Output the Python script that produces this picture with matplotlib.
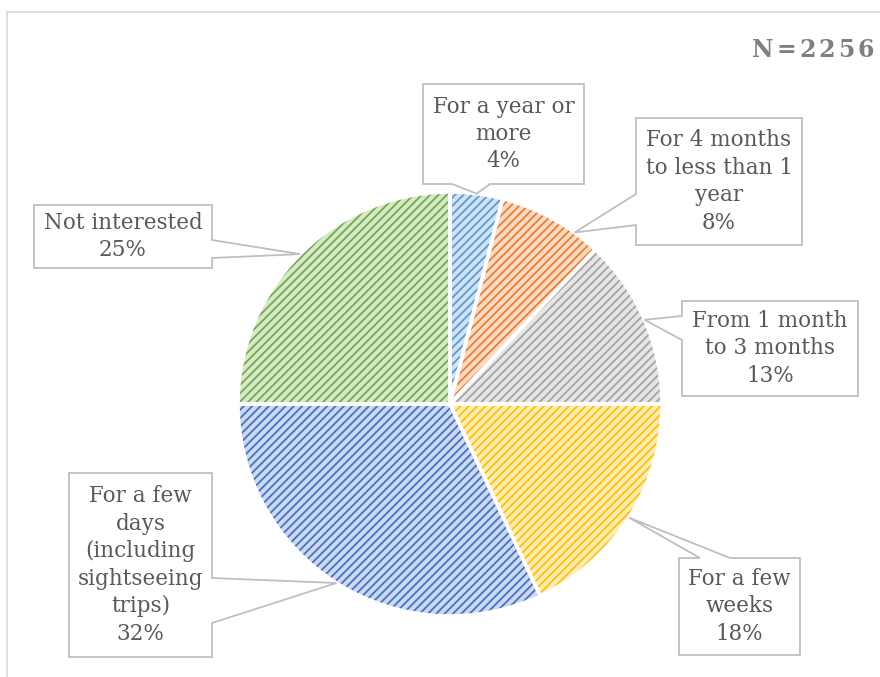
import matplotlib
matplotlib.use("Agg")
import matplotlib.pyplot as plt
from matplotlib.patches import Polygon
from matplotlib.colors import to_rgb
import numpy as np

# ---- data ----
categories = [
    "For a year or\nmore",
    "For 4 months\nto less than 1\nyear",
    "From 1 month\nto 3 months",
    "For a few\nweeks",
    "For a few\ndays\n(including\nsightseeing\ntrips)",
    "Not interested",
]
shares = [4, 8, 13, 18, 32, 25]
sample_note = "N=2256"

# ---- style ----
base_colors = ["#5B9BD5", "#ED7D31", "#A5A5A5", "#FFC000", "#4472C4", "#70AD47"]
text_color = "#595959"
box_edge = "#BFBFBF"
W, H = 880, 677

# pie geometry in pixel units (y measured from the top of the canvas)
cx, cy, R = 450, 404, 212

# callout boxes: (left, top, right, bottom), side holding the pointer,
# pointer base joints along that side, fraction within the slice where the pointer lands
callouts = [
    ((423, 84, 584, 184), "bottom", (452, 490), 0.5),
    ((636, 118, 802, 245), "left", (194, 225), 0.75),
    ((682, 301, 858, 396), "left", (316, 340), 0.5),
    ((679, 558, 800, 655), "top", (700, 730), 0.5),
    ((69, 473, 212, 657), "right", (578, 623), 0.5),
    ((34, 205, 212, 268), "right", (240, 258), 0.5),
]

plt.rcParams["hatch.linewidth"] = 1.3


def up(y):
    return H - y


def tint(c, amt):
    r, g, b = to_rgb(c)
    return (r + (1 - r) * amt, g + (1 - g) * amt, b + (1 - b) * amt)


fig = plt.figure(figsize=(W / 100, H / 100), dpi=100)
ax = fig.add_axes([0, 0, 1, 1])

# hatched fill layer
wedges, _ = ax.pie(
    shares, startangle=90, counterclock=False, center=(cx, up(cy)), radius=R,
    colors=[tint(c, 0.72) for c in base_colors],
    wedgeprops=dict(linewidth=0),
)
for w, c in zip(wedges, base_colors):
    w.set_hatch("////")
    w.set_edgecolor(c)
    w.set_linewidth(0)

# white separators
ax.pie(
    shares, startangle=90, counterclock=False, center=(cx, up(cy)), radius=R,
    colors=["none"] * len(shares),
    wedgeprops=dict(linewidth=2.6, edgecolor="white", fill=False),
)

ax.set_xlim(0, W)
ax.set_ylim(0, H)
ax.set_aspect("auto")
ax.axis("off")

# outer frame
ax.plot([7, 7, W + 5], [up(H + 5), up(12), up(12)], color="#D9D9D9", lw=1.2,
        solid_joinstyle="miter")

# callouts
cum = 0.0
for (box, side, joints, frac), cat, v in zip(callouts, categories, shares):
    ang = np.deg2rad(90 - (cum + frac * v) * 3.6)
    cum += v
    tip = (cx + R * np.cos(ang), up(cy - R * np.sin(ang)))
    l, t, r, b = box
    j1, j2 = joints
    if side == "bottom":
        pts = [(l, t), (r, t), (r, b), (j2, b), None, (j1, b), (l, b)]
    elif side == "left":
        pts = [(l, t), (r, t), (r, b), (l, b), (l, j2), None, (l, j1)]
    elif side == "right":
        pts = [(l, t), (r, t), (r, j1), None, (r, j2), (r, b), (l, b)]
    else:
        pts = [(l, t), (j1, t), None, (j2, t), (r, t), (r, b), (l, b)]
    verts = [tip if p is None else (p[0], up(p[1])) for p in pts]
    ax.add_patch(Polygon(verts, closed=True, facecolor="white", edgecolor=box_edge,
                         lw=1.3, zorder=5, joinstyle="miter"))
    ax.text((l + r) / 2, up((t + b) / 2), f"{cat}\n{v}%", ha="center", va="center",
            fontsize=15.5, family="DejaVu Serif", color=text_color,
            linespacing=1.32, zorder=6)

# sample size note, letter-spaced, right-aligned at x=874
renderer = fig.canvas.get_renderer()
x_right = 874
tracking = 3.0
for ch in reversed(sample_note):
    t = ax.text(x_right, up(50), ch, ha="right", va="center", fontsize=17,
                family="DejaVu Serif", fontweight="bold", color="#7F7F7F")
    x_right -= t.get_window_extent(renderer).width + tracking

fig.savefig("out.png", dpi=100)
